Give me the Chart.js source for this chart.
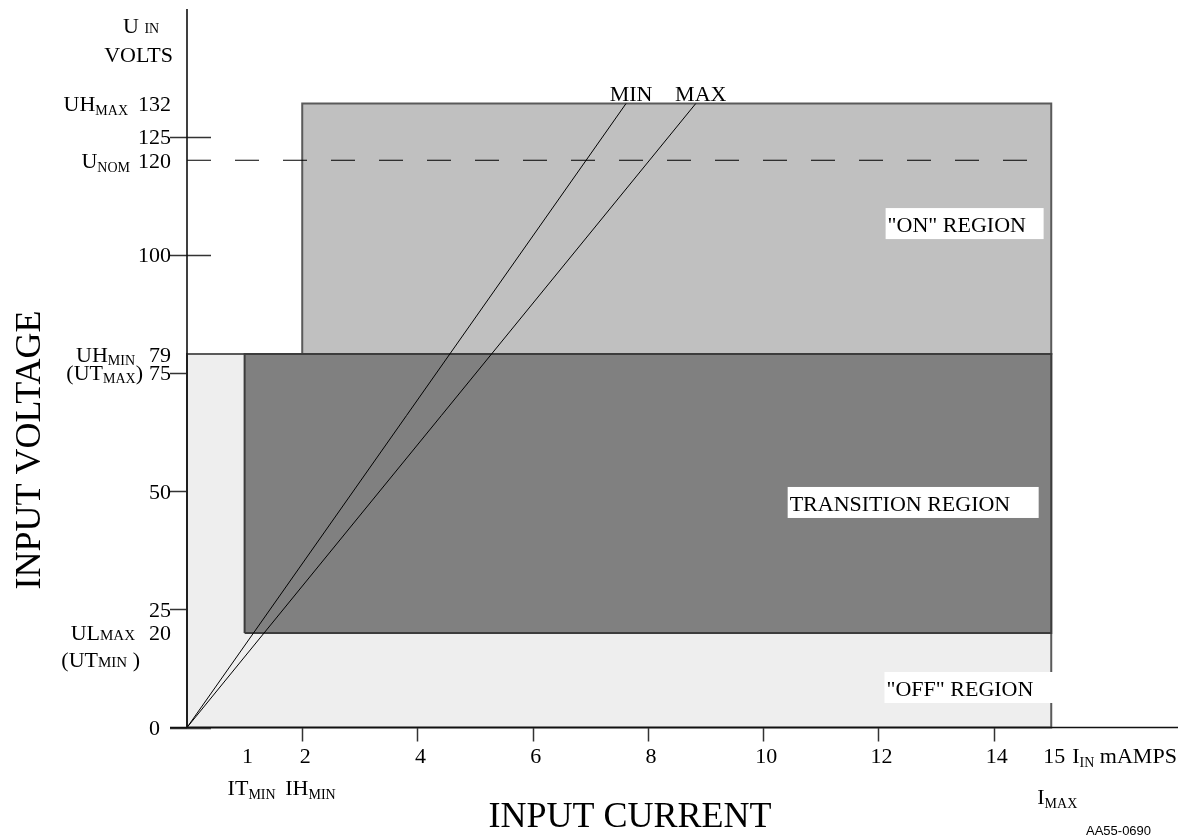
<!DOCTYPE html>
<html>
<head>
<meta charset="utf-8">
<script src="https://cdn.jsdelivr.net/npm/chart.js@4.4.1/dist/chart.umd.min.js"></script>
<style>
  html, body { margin: 0; padding: 0; background: #fff; }
  #wrap { width: 1195px; height: 840px; position: relative; }
</style>
</head>
<body>
<div id="wrap"><canvas id="chart"></canvas></div>
<script>
"use strict";

// axes (mA / V)
const currentMax = 17.2;
const voltageMax = 152;
const currentTicks = [2, 4, 6, 8, 10, 12, 14];
const currentLabels = [1, 2, 4, 6, 8, 10, 12, 14, 15];
const voltageTicks = [0, 25, 50, 75, 100, 125];
const voltageLabels = [0, 20, 25, 50, 75, 79, 100, 120, 125, 132];

// regions: off, on, transition
const regionNames = ['"OFF" REGION', '"ON" REGION', 'TRANSITION REGION'];
const regionCurrentFrom = [0, 2, 1];
const regionCurrentTo = [15, 15, 15];
const regionVoltageFrom = [0, 79, 20];
const regionVoltageTo = [79, 132, 79];
const regionColors = ['#eeeeee', '#c0c0c0', '#808080'];

// load lines from origin up to UH max
const lineNames = ['MIN', 'MAX'];
const lineTopCurrent = [7.62, 8.83];
const lineTopVoltage = 132;

// nominal voltage, dashed
const nominalVoltage = 120;
const nominalEndCurrent = 14.58;

const serif = '"Liberation Serif", "Times New Roman", serif';

function drawRich(ctx, parts, x, y, align) {
  let widths = parts.map(([t, s]) => {
    ctx.font = s + 'px ' + serif;
    return ctx.measureText(t).width;
  });
  let total = widths.reduce((a, b) => a + b, 0);
  let cx = align === 'right' ? x - total : align === 'center' ? x - total / 2 : x;
  ctx.textAlign = 'left';
  ctx.textBaseline = 'alphabetic';
  parts.forEach(([t, s, dy], i) => {
    ctx.font = s + 'px ' + serif;
    ctx.fillText(t, cx, y + (dy || 0));
    cx += widths[i];
  });
}

let datasets = regionNames.map((name, i) => ({
  label: name,
  data: [
    {x: regionCurrentFrom[i], y: regionVoltageFrom[i]},
    {x: regionCurrentFrom[i], y: regionVoltageTo[i]},
    {x: regionCurrentTo[i], y: regionVoltageTo[i]},
    {x: regionCurrentTo[i], y: regionVoltageFrom[i]},
    {x: regionCurrentFrom[i], y: regionVoltageFrom[i]},
  ],
  fill: 'shape',
  backgroundColor: regionColors[i],
  borderColor: i === 2 ? '#3c3c3c' : '#5a5a5a',
  borderWidth: 2,
  pointRadius: 0,
  clip: false,
  order: [5, 4, 3][i],
}));

lineNames.forEach((name, i) => {
  datasets.push({
    label: name,
    data: [{x: 0, y: 0}, {x: lineTopCurrent[i], y: lineTopVoltage}],
    borderColor: '#000',
    borderWidth: 1,
    pointRadius: 0,
    fill: false,
    clip: false,
    order: 2,
  });
});

datasets.push({
  label: 'U NOM',
  data: [{x: 0, y: nominalVoltage}, {x: nominalEndCurrent, y: nominalVoltage}],
  borderColor: '#000',
  borderWidth: 1,
  borderDash: [24, 24],
  pointRadius: 0,
  fill: false,
  clip: false,
  order: 1,
});

const voltageNotes = [
  {at: 132, right: -59, parts: [['UH', 22], ['MAX', 14, 4]]},
  {at: 120, right: -57, parts: [['U', 22], ['NOM', 14, 4]]},
  {at: 79, right: -52, parts: [['UH', 22], ['MIN', 14, 3]]},
  {at: 75, right: -44, parts: [['(UT', 22], ['MAX', 14, 3], [')', 22]]},
  {at: 20, right: -52, parts: [['UL', 22], ['MAX', 15, 0]]},
  {at: 20, right: -47, dy: 27, parts: [['(UT', 22], ['MIN', 15, 0], [' )', 22]]},
];

const regionBoxes = [
  {at: [12.14, 8.36], width: 170},
  {at: [12.16, 106.5], width: 158},
  {at: [10.46, 47.5], width: 251},
];

const drawing = {
  id: 'drawing',
  beforeDatasetsDraw(chart) {
    let {ctx, scales: {x, y}} = chart;
    let x0 = x.getPixelForValue(0), y0 = y.getPixelForValue(0);
    ctx.save();
    ctx.strokeStyle = '#333';
    ctx.lineWidth = 1.5;
    voltageTicks.forEach(v => {
      let py = Math.round(y.getPixelForValue(v)) + 0.5;
      ctx.beginPath();
      ctx.moveTo(x0 - 17, py);
      ctx.lineTo(x0 + 24, py);
      ctx.stroke();
    });
    currentTicks.forEach(v => {
      let px = Math.round(x.getPixelForValue(v)) + 0.5;
      ctx.beginPath();
      ctx.moveTo(px, y0);
      ctx.lineTo(px, y0 + 14);
      ctx.stroke();
    });
    ctx.restore();
  },
  afterDatasetsDraw(chart) {
    let {ctx, chartArea, scales: {x, y}} = chart;
    let x0 = x.getPixelForValue(0), y0 = y.getPixelForValue(0);
    ctx.save();
    // axis lines
    ctx.strokeStyle = '#111';
    ctx.lineWidth = 1.6;
    ctx.beginPath();
    ctx.moveTo(x0, chartArea.top);
    ctx.lineTo(x0, y0);
    ctx.moveTo(x0 - 17, y0);
    ctx.lineTo(chartArea.right, y0);
    ctx.stroke();

    ctx.fillStyle = '#000';
    // voltage numbers
    voltageLabels.forEach(v => {
      let py = y.getPixelForValue(v) + 7.5;
      drawRich(ctx, [[String(v), 22]], x0 + (v === 0 ? -27 : -16), py, 'right');
    });
    voltageNotes.forEach(n => {
      drawRich(ctx, n.parts, x0 + n.right, y.getPixelForValue(n.at) + 7.5 + (n.dy || 0), 'right');
    });
    drawRich(ctx, [['U ', 22], ['IN', 14, 0]], x0 - 64, chartArea.top + 24);
    drawRich(ctx, [['VOLTS', 22]], x0 - 14, chartArea.top + 53, 'right');

    // current numbers
    currentLabels.forEach(v => {
      drawRich(ctx, [[String(v), 22]], x.getPixelForValue(v) + 3, y0 + 35, 'center');
    });
    drawRich(ctx, [['I', 22], ['IN', 14, 4], [' mAMPS', 22]], x.getPixelForValue(15) + 21, y0 + 35);
    drawRich(ctx, [['IT', 22], ['MIN', 14, 4]], x.getPixelForValue(1) - 17, y0 + 67);
    drawRich(ctx, [['IH', 22], ['MIN', 14, 4]], x.getPixelForValue(2) - 17, y0 + 67);
    drawRich(ctx, [['I', 22], ['MAX', 14, 4]], x.getPixelForValue(15) - 14, y0 + 76);

    // MIN / MAX line labels
    lineNames.forEach((name, i) => {
      drawRich(ctx, [[name, 22]], x.getPixelForValue(lineTopCurrent[i]) + 5,
        y.getPixelForValue(lineTopVoltage) - 3, 'center');
    });

    // region labels on white boxes
    regionBoxes.forEach((b, i) => {
      let px = x.getPixelForValue(b.at[0]), py = y.getPixelForValue(b.at[1]);
      ctx.fillStyle = '#fff';
      ctx.fillRect(px - 2, py - 16, b.width, 31);
      ctx.fillStyle = '#000';
      drawRich(ctx, [[regionNames[i], 22]], px, py + 8);
    });

    // axis titles
    ctx.font = '36px ' + serif;
    ctx.textAlign = 'center';
    ctx.textBaseline = 'alphabetic';
    ctx.fillText('INPUT CURRENT', 630, 827);
    ctx.save();
    ctx.translate(40, 450);
    ctx.rotate(-Math.PI / 2);
    ctx.fillText('INPUT VOLTAGE', 0, 0);
    ctx.restore();

    ctx.font = '13px "Liberation Sans", Arial, sans-serif';
    ctx.textAlign = 'left';
    ctx.fillText('AA55-0690', 1086, 835);
    ctx.restore();
  },
};

new Chart(document.getElementById('chart').getContext('2d'), {
  type: 'line',
  data: {datasets: datasets},
  options: {
    responsive: true,
    maintainAspectRatio: false,
    animation: false,
    events: [],
    layout: {
      padding: {left: 187, right: 17, top: 9, bottom: 112.5},
    },
    scales: {
      x: {type: 'linear', min: 0, max: currentMax, display: false},
      y: {type: 'linear', min: 0, max: voltageMax, display: false},
    },
    elements: {
      line: {tension: 0},
    },
    plugins: {
      legend: {display: false},
      tooltip: {enabled: false},
    },
  },
  plugins: [drawing],
});
</script>
</body>
</html>
